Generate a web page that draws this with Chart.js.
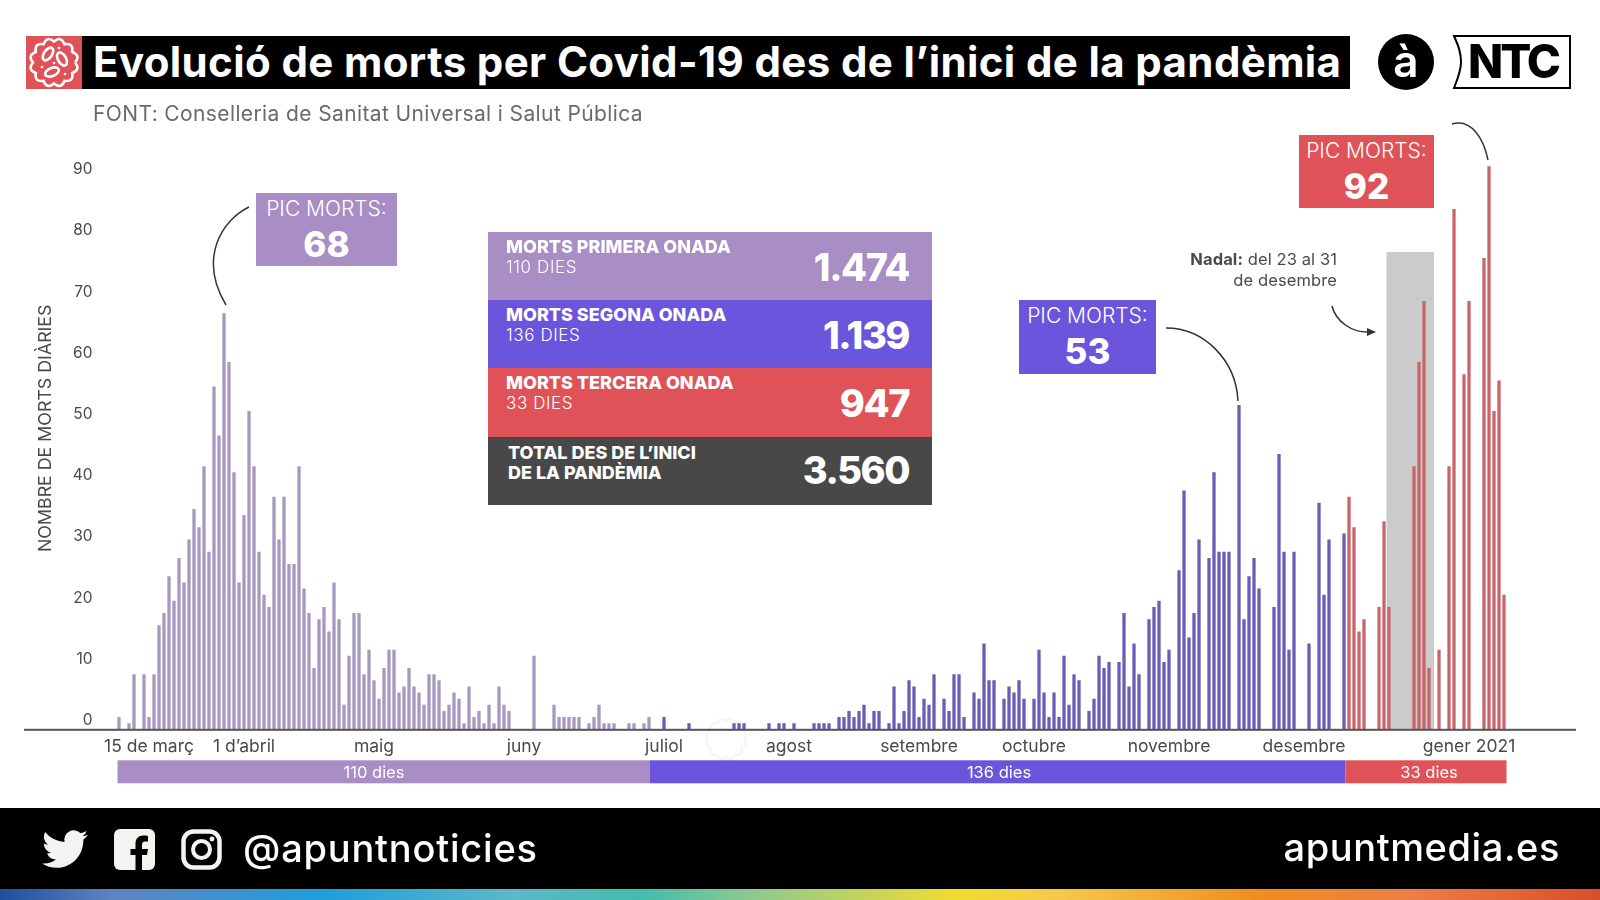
<!DOCTYPE html>
<html lang="ca">
<head>
<meta charset="utf-8">
<title>Evolució de morts per Covid-19</title>
<script src="https://cdn.jsdelivr.net/npm/chart.js@4/dist/chart.umd.min.js"></script>
<style>
  html, body { margin: 0; padding: 0; background: #fff; }
  #page { position: relative; width: 1600px; height: 900px; overflow: hidden; font-family: Inter, "Open Sans", sans-serif; color: #fff; }
  #page div, #page svg { position: absolute; }
  #chart { position: absolute; left: 0; top: 0; }
  .title { left: 82px; top: 36px; width: 1268px; height: 53px; background: #000; font-weight: 700; font-size: 42px; line-height: 51px; padding-left: 11px; box-sizing: border-box; white-space: nowrap; letter-spacing: 0.38px; }
  .source { left: 93px; top: 100px; font-size: 21px; line-height: 28px; color: #6a6a6a; white-space: nowrap; letter-spacing: 0.38px; }
  .peak { text-align: center; }
  #page .peak div { position: static; }
  .peak .lab { font-size: 21px; line-height: 24px; padding-top: 4px; font-weight: 300; white-space: nowrap; }
  .peak .num { font-size: 35px; line-height: 47px; font-weight: 800; }
  .row { left: 488px; width: 444px; height: 68px; }
  .row .t1 { left: 18px; top: 4px; font-size: 18px; line-height: 22px; font-weight: 800; white-space: nowrap; }
  .row .t2 { left: 18px; top: 24px; font-size: 17px; line-height: 22px; font-weight: 300; white-space: nowrap; letter-spacing: 0.6px; }
  .row .n { right: 23px; top: 11px; font-size: 38px; line-height: 48px; font-weight: 800; letter-spacing: -1.5px; }
  .nadal { right: 263px; top: 249px; width: 220px; text-align: right; color: #4a4a4a; font-size: 16.5px; line-height: 21px; letter-spacing: 0.1px; }
  .footer { left: 0; top: 808px; width: 1600px; height: 81px; background: #000; }
  .rainbow { left: 0; top: 889px; width: 1600px; height: 11px; background: linear-gradient(90deg, #1e4f9c 0%, #5f83c0 7%, #1f9ddb 20%, #5bb8c8 32%, #43bcae 40%, #8ec98f 47%, #f2dc2f 60%, #f6c94a 66%, #ef8c1e 79%, #ee7f45 88%, #d84f2a 100%); }
  .handle { left: 243px; top: 825px; font-size: 38px; line-height: 46px; font-weight: 500; letter-spacing: 0.8px; white-space: nowrap; }
  .site { right: 40px; top: 824px; font-size: 38px; line-height: 46px; font-weight: 500; letter-spacing: 0.6px; white-space: nowrap; }
</style>
</head>
<body>
<div id="page">
  <canvas id="chart" width="1600" height="900"></canvas>

  <div style="left:26px;top:36px;width:56px;height:53px;background:#df5257"></div>
  <svg style="left:26px;top:36px" width="56" height="53" viewBox="0 0 56 53">
    <path id="virus" fill="none" stroke="#fff" stroke-width="2.6"></path>
    <g fill="none" stroke="#fff" stroke-width="2.6">
      <ellipse cx="22" cy="18" rx="4" ry="7.2" transform="rotate(35 22 18)"/>
      <ellipse cx="36" cy="23" rx="4" ry="7.2" transform="rotate(-30 36 23)"/>
      <ellipse cx="26" cy="36" rx="4" ry="7.2" transform="rotate(68 26 36)"/>
    </g>
    <g fill="#fff"><circle cx="33" cy="12" r="1.3"/><circle cx="16" cy="31" r="1.3"/><circle cx="39" cy="38" r="1.3"/><circle cx="28" cy="27" r="1.3"/></g>
  </svg>
  <div class="title">Evolució de morts per Covid-19 des de l’inici de la pandèmia</div>
  <div class="source">FONT: Conselleria de Sanitat Universal i Salut Pública</div>

  <svg style="left:1378px;top:34px" width="56" height="56"><circle cx="28" cy="28" r="28" fill="#000"/>
    <text x="28" y="43" text-anchor="middle" font-family="Inter" font-size="44" font-weight="600" fill="#fff">à</text></svg>
  <svg style="left:1450px;top:33px" width="124" height="58">
    <path d="M4 3 H120 V55 H4 C8 45 11 38 11 29 C11 19 8 12 4 3 Z" fill="#fff" stroke="#000" stroke-width="2"/>
    <text x="63" y="45" text-anchor="middle" font-family="Inter" font-size="46" font-weight="800" letter-spacing="-3" fill="#000">NTC</text></svg>

  <svg style="left:0;top:0;pointer-events:none" width="1600" height="900" fill="none" stroke="#333" stroke-width="1.5">
    <path d="M249 207 C 222 220, 198 258, 226 305"/>
    <path d="M1166 328 C 1204 328, 1236 360, 1238 401"/>
    <path d="M1452 124 C 1472 118, 1484 140, 1488 160"/>
    <path d="M1332 306 C 1336 322, 1352 332, 1367 332"/>
    <path d="M1367 328 L1376 332 L1367 336 Z" fill="#333" stroke="none"/>
  </svg>

  <div class="peak" style="left:256px;top:193px;width:141px;height:73px;background:#a98dc5">
    <div class="lab">PIC MORTS:</div><div class="num">68</div></div>
  <div class="peak" style="left:1019px;top:300px;width:137px;height:74px;background:#6b55dc">
    <div class="lab">PIC MORTS:</div><div class="num">53</div></div>
  <div class="peak" style="left:1299px;top:135px;width:135px;height:73px;background:#df5257">
    <div class="lab">PIC MORTS:</div><div class="num">92</div></div>

  <div class="row" style="top:232px;background:#a98dc5"><div class="t1">MORTS PRIMERA ONADA</div><div class="t2">110 DIES</div><div class="n">1.474</div></div>
  <div class="row" style="top:300px;background:#6b55dc"><div class="t1">MORTS SEGONA ONADA</div><div class="t2">136 DIES</div><div class="n">1.139</div></div>
  <div class="row" style="top:368px;height:69px;background:#df5257"><div class="t1">MORTS TERCERA ONADA</div><div class="t2">33 DIES</div><div class="n">947</div></div>
  <div class="row" style="top:437px;background:#484848"><div class="t1" style="left:20px;top:6px;line-height:20px">TOTAL DES DE L’INICI<br>DE LA PANDÈMIA</div><div class="n" style="top:9px">3.560</div></div>

  <div class="nadal"><b>Nadal:</b> del 23 al 31<br>de desembre</div>

  <div class="footer"></div>
  <div class="rainbow"></div>
  <svg style="left:42px;top:826px" width="46" height="46" viewBox="0 0 24 24"><path fill="#f5f3ef" d="M23.953 4.57a10 10 0 01-2.825.775 4.958 4.958 0 002.163-2.723c-.951.555-2.005.959-3.127 1.184a4.92 4.92 0 00-8.384 4.482C7.69 8.095 4.067 6.13 1.64 3.162a4.822 4.822 0 00-.666 2.475c0 1.71.87 3.213 2.188 4.096a4.904 4.904 0 01-2.228-.616v.06a4.923 4.923 0 003.946 4.827 4.996 4.996 0 01-2.212.085 4.936 4.936 0 004.604 3.417 9.867 9.867 0 01-6.102 2.105c-.39 0-.779-.023-1.17-.067a13.995 13.995 0 007.557 2.209c9.053 0 13.998-7.496 13.998-13.985 0-.21 0-.42-.015-.63A9.935 9.935 0 0024 4.59z"/></svg>
  <svg style="left:114px;top:829px" width="41" height="41" viewBox="0 0 41 41"><rect width="41" height="41" rx="6" fill="#f5f3ef"/><path fill="#000" d="M28 41 V26 H33 L34 20 H28 V16 C28 13.5 29 12.5 31.5 12.5 H34 V7 C32.5 6.7 30.8 6.6 29.5 6.6 C24.5 6.6 21.5 9.6 21.5 15 V20 H16.5 V26 H21.5 V41 Z"/></svg>
  <svg style="left:181px;top:829px" width="41" height="41" viewBox="0 0 41 41" fill="none" stroke="#f5f3ef"><rect x="2.5" y="2.5" width="36" height="36" rx="10" stroke-width="4.5"/><circle cx="20.5" cy="20.5" r="8.5" stroke-width="4"/><circle cx="31" cy="10" r="2.4" fill="#f5f3ef" stroke="none"/></svg>
  <div class="handle">@apuntnoticies</div>
  <div class="site">apuntmedia.es</div>
  <svg style="left:702px;top:716px;opacity:.04" width="48" height="46" viewBox="0 0 56 53"><path id="virusMark" fill="none" stroke="#000" stroke-width="2.6"></path></svg>
</div>

<script>
// morts per dia, llegit del grafic
var firstWave = [2,0,1,9,0,9,2,9,17,19,
  25,21,28,24,31,36,33,43,29,56,
  48,68,60,42,24,35,52,43,29,22,
  20,38,31,38,27,27,43,23,19,10,
  18,20,16,24,18,4,12,19,19,9,
  13,8,5,10,13,13,6,7,10,7,
  6,4,9,9,8,3,4,6,5,1,
  7,2,3,1,4,1,7,4,3,0,
  0,0,0,12,0,0,0,4,2,2,
  2,2,2,0,1,2,4,1,1,1,
  0,0,1,1,0,1,2];
var secondWave = [0,0,2,0,0,0,0,1,0,0,0,0,0,0,0,0,1,1,1,0,0,0,0,1,0,1,1,0,1,0,0,0,
  1,1,1,1,0,2,2,3,2,3,4,1,3,3,0,1,7,1,3,8,7,2,5,4,9,0,5,3,9,9,2,0,
  6,5,14,8,8,0,5,7,6,8,5,0,5,13,6,2,6,2,12,4,9,8,0,3,5,12,10,11,0,
  11,19,7,14,9,0,18,20,21,11,13,0,26,39,15,19,31,0,28,42,29,29,29,0,
  53,18,25,28,23,0,0,20,45,29,13,29,0,0,14,0,37,22,31,0,0,32];
var thirdWave = [38,33,16,18,0,0,20,34,20,0,0,0,0,43,60,70,10,0,13,0,43,85,0,58,70,0,0,77,92,52,57,22];

var tickSlots = [6,25,51,81,109,134,160,183,210,237,270];
var tickNames = ["15 de març","1 d’abril","maig","juny","juliol","agost","setembre","octubre","novembre","desembre","gener 2021"];

var bandEdges = [-0.3,106.2,245.3,277.5];
var bandNames = ["110 dies","136 dies","33 dies"];
var bandTextSlots = [51,176,262];
var bandColors = ["#a98dc5","#6b55dc","#df5257"];
var nadalSlots = [253.5,263];
var nadalTop = 78;

var total = firstWave.length + secondWave.length + thirdWave.length;
var labels = [];
for (var i = 0; i < total; i++) {
    var k = tickSlots.indexOf(i);
    labels.push(k >= 0 ? tickNames[k] : "");
}

function blanks(n) { return new Array(n).fill(null); }

// franges de dies, zona de Nadal i linia de base
var extras = {
    id: 'extras',
    beforeDatasetsDraw: function(chart) {
        var c = chart.ctx, x = chart.scales.x, y = chart.scales.y;
        var a = x.getPixelForValue(nadalSlots[0]), b = x.getPixelForValue(nadalSlots[1]);
        c.fillStyle = '#cbcbcb';
        c.fillRect(a, y.getPixelForValue(nadalTop), b - a, y.getPixelForValue(0) - y.getPixelForValue(nadalTop));
    },
    afterDraw: function(chart) {
        var c = chart.ctx, x = chart.scales.x, y = chart.scales.y;
        var base = y.getPixelForValue(0);
        c.save();
        c.fillStyle = '#555';
        c.fillRect(24, base - 0.5, 1552, 2);
        c.font = '16.5px Inter';
        c.textAlign = 'center';
        c.textBaseline = 'middle';
        for (var i = 0; i < bandNames.length; i++) {
            var a = x.getPixelForValue(bandEdges[i]), b = x.getPixelForValue(bandEdges[i + 1]);
            c.fillStyle = bandColors[i];
            c.fillRect(a, base + 31, b - a, 23);
            c.fillStyle = '#fff';
            c.fillText(bandNames[i], x.getPixelForValue(bandTextSlots[i]), base + 44);
        }
        c.restore();
    }
};

new Chart(document.getElementById("chart"), {
    type: 'bar',
    data: {
        labels: labels,
        datasets: [
            { label: "Primera onada", backgroundColor: "#a798bf", data: firstWave },
            { label: "Segona onada", backgroundColor: "#6b5cb8", data: blanks(firstWave.length).concat(secondWave) },
            { label: "Tercera onada", backgroundColor: "#c9666b", data: blanks(firstWave.length + secondWave.length).concat(thirdWave) }
        ]
    },
    options: {
        responsive: false,
        animation: false,
        layout: { padding: { top: 117.3, right: 93.5 } },
        datasets: { bar: { barPercentage: 0.66, categoryPercentage: 1 } },
        plugins: { legend: { display: false }, tooltip: { enabled: false } },
        scales: {
            x: {
                stacked: true,
                grid: { display: false, drawTicks: false },
                border: { display: false },
                afterFit: function(s) { s.height = 170.7; },
                ticks: { autoSkip: false, maxRotation: 0, padding: 7, color: '#4a4a4a', font: { family: 'Inter', size: 17.5 } }
            },
            y: {
                stacked: true,
                min: 0,
                max: 100,
                grid: { display: false, drawTicks: false },
                border: { display: false },
                afterFit: function(s) { s.width = 116.5; },
                title: { display: true, text: 'NOMBRE DE MORTS DIÀRIES\u00a0\u00a0', color: '#4a4a4a', font: { family: 'Inter', size: 17.8 }, padding: { top: 35 } },
                ticks: {
                    stepSize: 10,
                    padding: 24,
                    labelOffset: -9,
                    color: '#4a4a4a',
                    font: { family: 'Inter', size: 15.5 },
                    callback: function(v) { return v > 90 ? '' : v; }
                }
            }
        }
    },
    plugins: [extras]
});

// contorn del virus de la icona
var d = 'M';
for (var n = 0; n <= 12; n++) {
    var t0 = n / 12 * Math.PI * 2, t1 = (n + 0.5) / 12 * Math.PI * 2;
    d += (28 + 21 * Math.cos(t0)).toFixed(1) + ' ' + (26.5 + 21 * Math.sin(t0)).toFixed(1);
    if (n < 12) d += ' Q' + (28 + 28 * Math.cos(t1)).toFixed(1) + ' ' + (26.5 + 28 * Math.sin(t1)).toFixed(1) + ' ';
}
document.getElementById('virus').setAttribute('d', d);
document.getElementById('virusMark').setAttribute('d', d);
</script>
</body>
</html>
